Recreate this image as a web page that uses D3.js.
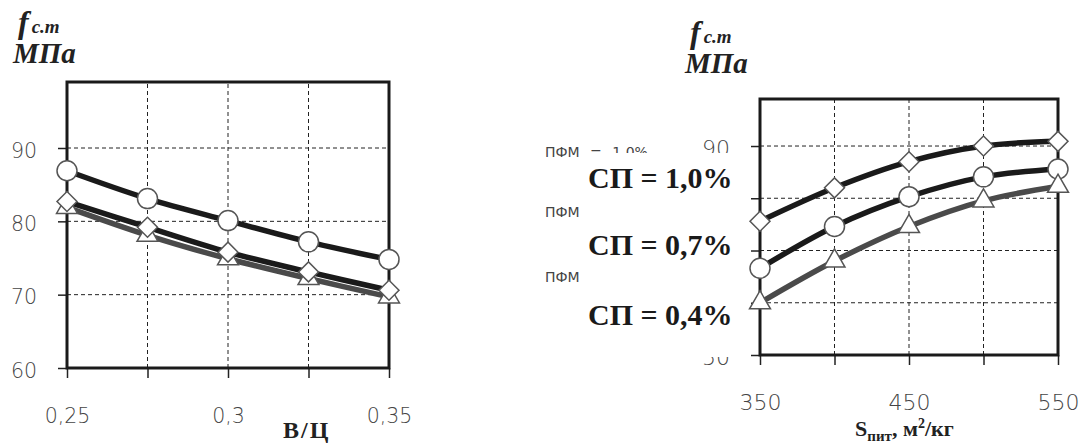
<!DOCTYPE html>
<html>
<head>
<meta charset="utf-8">
<script src="https://cdn.jsdelivr.net/npm/d3@7"></script>
<style>
  body { margin: 0; background: #fff; }
  svg { display: block; }
</style>
</head>
<body>
<div id="chart"></div>
<script>
const WIDTH = 1080;
const HEIGHT = 443;

// left panel: strength vs water/cement ratio
var wcRatio = [0.25, 0.275, 0.3, 0.325, 0.35];
var leftCircle = [86.9, 83.1, 80.1, 77.2, 74.8];
var leftTriangle = [81.9, 78.1, 74.9, 72.2, 69.7];
var leftDiamond = [82.7, 79.2, 75.8, 73.1, 70.6];
var leftXLabels = [0.25, 0.3, 0.35];
var leftYTicks = [60, 70, 80, 90];

// right panel: strength vs specific surface
var surface = [350, 400, 450, 500, 550];
var rightCircle = [66.6, 74.6, 80.3, 84.1, 85.6];
var rightTriangle = [60.0, 68.0, 74.6, 79.5, 82.3];
var rightDiamond = [75.6, 82.0, 87.0, 90.0, 90.9];
var rightXLabels = [350, 450, 550];
var rightYTicks = [50, 60, 70, 80, 90];

var oldLabels = ["ПФМ = 1,0%", "ПФМ = 0,7%", "ПФМ = 0,4%"];
var newLabels = ["СП = 1,0%", "СП = 0,7%", "СП = 0,4%"];

var SERIF = "'Liberation Serif', 'Times New Roman', serif";
var SANS = "'DejaVu Sans', Verdana, sans-serif";

var comma = function (d) { return String(d).replace(".", ","); };

var svg = d3.select('#chart').append('svg')
  .attr('width', WIDTH)
  .attr('height', HEIGHT);

svg.append('rect').attr('width', WIDTH).attr('height', HEIGHT).attr('fill', '#fff');

var drawPanel = function (p) {
  var x = d3.scaleLinear().domain(p.xDomain).range(p.xRange);
  var y = d3.scaleLinear().domain(p.yDomain).range(p.yRange);
  var g = svg.append('g');

  // dashed grid
  g.selectAll('.gx').data(p.xs.slice(1, -1)).enter().append('line')
    .attr('x1', function (d) { return x(d); }).attr('x2', function (d) { return x(d); })
    .attr('y1', y.range()[0]).attr('y2', y.range()[1])
    .attr('stroke', '#222').attr('stroke-width', 1).attr('stroke-dasharray', '4,3');
  g.selectAll('.gy').data(p.yTicks.slice(1)).enter().append('line')
    .attr('x1', x.range()[0]).attr('x2', x.range()[1])
    .attr('y1', function (d) { return y(d); }).attr('y2', function (d) { return y(d); })
    .attr('stroke', '#222').attr('stroke-width', 1).attr('stroke-dasharray', '4,3');

  // axes: tick marks and labels
  var yAxis = g.append('g')
    .attr('transform', 'translate(' + x.range()[0] + ',0)')
    .call(d3.axisLeft(y).tickValues(p.yTicks).tickSize(9).tickPadding(21).tickFormat(comma));
  yAxis.select('.domain').remove();
  yAxis.selectAll('line').attr('stroke', '#222').attr('stroke-width', 1.5);
  yAxis.selectAll('text').attr('dy', '0.45em')
    .style('font-family', SANS).style('font-size', p.fontSize + 'px')
    .style('font-weight', 300).attr('fill', '#444');

  var xTickAxis = g.append('g')
    .attr('transform', 'translate(0,' + y.range()[0] + ')')
    .call(d3.axisBottom(x).tickValues(p.xs).tickSize(10).tickFormat(''));
  xTickAxis.select('.domain').remove();
  xTickAxis.selectAll('line').attr('stroke', '#222').attr('stroke-width', 1.5);

  var xLabelAxis = g.append('g')
    .attr('transform', 'translate(0,' + y.range()[0] + ')')
    .call(d3.axisBottom(x).tickValues(p.xLabels).tickSize(0).tickPadding(p.xPad).tickFormat(comma));
  xLabelAxis.select('.domain').remove();
  xLabelAxis.selectAll('text')
    .style('font-family', SANS).style('font-size', p.fontSize + 'px')
    .style('font-weight', 300).attr('fill', '#444');

  // frame
  g.append('rect')
    .attr('x', x.range()[0]).attr('y', y.range()[1])
    .attr('width', x.range()[1] - x.range()[0])
    .attr('height', y.range()[0] - y.range()[1])
    .attr('fill', 'none').attr('stroke', '#1a1a1a').attr('stroke-width', 3);

  var line = d3.line()
    .x(function (d, i) { return x(p.xs[i]); })
    .y(function (d) { return y(d); })
    .curve(d3.curveCatmullRom);

  p.series.forEach(function (s) {
    g.append('path')
      .attr('d', line(s.values))
      .attr('fill', 'none')
      .attr('stroke', s.color)
      .attr('stroke-width', 5.5)
      .attr('stroke-linejoin', 'round');
  });

  p.series.forEach(function (s) {
    g.selectAll(null).data(s.values).enter().append('path')
      .attr('d', d3.symbol().type(s.symbol).size(s.size))
      .attr('transform', function (d, i) {
        return 'translate(' + x(p.xs[i]) + ',' + y(d) + ')' + (s.rotate ? ' rotate(45)' : '');
      })
      .attr('fill', '#fff')
      .attr('stroke', '#555')
      .attr('stroke-width', 1.5);
  });

  return g;
};

var makeSeries = function (circle, triangle, diamond) {
  return [
    { values: circle, color: '#1a1a1a', symbol: d3.symbolCircle, size: 314 },
    { values: triangle, color: '#4a4a4a', symbol: d3.symbolTriangle, size: 190 },
    { values: diamond, color: '#1a1a1a', symbol: d3.symbolSquare, size: 200, rotate: true }
  ];
};

drawPanel({
  xs: wcRatio, xDomain: [0.25, 0.35], xRange: [67, 389],
  yDomain: [60, 99], yRange: [368, 82],
  yTicks: leftYTicks, xLabels: leftXLabels, xPad: 40, fontSize: 20.5,
  series: makeSeries(leftCircle, leftTriangle, leftDiamond)
});

drawPanel({
  xs: surface, xDomain: [350, 550], xRange: [760, 1058],
  yDomain: [50, 99], yRange: [355, 99],
  yTicks: rightYTicks, xLabels: rightXLabels, xPad: 39, fontSize: 22,
  series: makeSeries(rightCircle, rightTriangle, rightDiamond)
});

// axis titles
var title = function (x, y1, y2) {
  var t = svg.append('text').attr('x', x + 5).attr('y', y1)
    .style('font-family', SERIF).style('font-weight', 'bold').style('font-style', 'italic')
    .attr('fill', '#222');
  t.append('tspan').style('font-size', '32px').text('f');
  t.append('tspan').style('font-size', '19px').attr('dx', 3).text('с.т');
  svg.append('text').attr('x', x).attr('y', y2)
    .style('font-family', SERIF).style('font-weight', 'bold').style('font-style', 'italic')
    .style('font-size', '29px').attr('fill', '#222')
    .text('МПа');
};
title(13, 33, 63);
title(685, 43, 73);

svg.append('text').attr('x', 283).attr('y', 438)
  .style('font-family', SERIF).style('font-weight', 'bold').style('font-size', '24px')
  .style('letter-spacing', '2px').attr('fill', '#222').text('В/Ц');

var sx = svg.append('text').attr('x', 855).attr('y', 436)
  .style('font-family', SERIF).style('font-weight', 'bold').attr('fill', '#222')
  .style('font-size', '22px');
sx.append('tspan').text('S');
sx.append('tspan').style('font-size', '15px').attr('dy', 5).text('пит');
sx.append('tspan').attr('dy', -5).text(', м');
sx.append('tspan').style('font-size', '14px').attr('dy', -8).text('2');
sx.append('tspan').attr('dy', 8).text('/кг');

// old legend text partly covered by the new labels
var legendY = [157, 217, 282];
var newY = [188, 255, 325];
svg.selectAll('.old').data(oldLabels).enter().append('text')
  .attr('x', 545).attr('y', function (d, i) { return legendY[i]; })
  .style('font-family', SANS).style('font-size', '14px').style('word-spacing', '6px')
  .attr('fill', '#444')
  .text(function (d) { return d; });

svg.append('rect').attr('x', 584).attr('y', 153).attr('width', 153).attr('height', 204)
  .attr('fill', '#fff');

svg.selectAll('.new').data(newLabels).enter().append('text')
  .attr('x', 588).attr('y', function (d, i) { return newY[i]; })
  .style('font-family', SERIF).style('font-weight', 'bold').style('font-size', '30px')
  .attr('fill', '#1a1a1a')
  .text(function (d) { return d; });
</script>
</body>
</html>
